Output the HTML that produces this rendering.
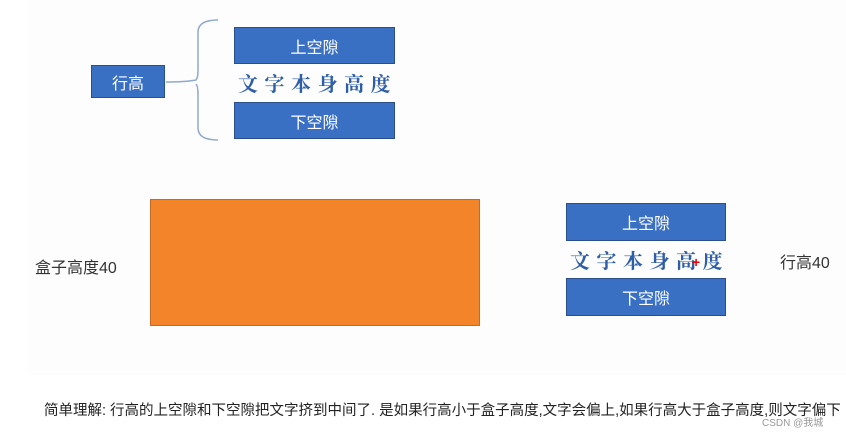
<!DOCTYPE html>
<html><head><meta charset="utf-8"><style>
body{margin:0;width:846px;height:433px;background:#fff;position:relative;overflow:hidden;font-family:"Liberation Sans","Noto Sans CJK SC",sans-serif}
.a{position:absolute}
.bb{position:absolute;background:#3a70c4;border:1px solid #2a4f8a;color:#fff;font-size:16px;display:flex;align-items:center;justify-content:center;box-sizing:border-box}
.bt{position:absolute;color:#2f5ea8;font-size:20px;font-weight:bold;letter-spacing:6.5px;font-family:"Noto Serif CJK SC",serif;white-space:nowrap}
</style></head><body>
<div class="a" style="left:27px;top:0;width:819px;height:375px;background:#fcfdfc"></div>
<div class="bb" style="left:91px;top:65px;width:74px;height:33px">行高</div>
<svg class="a" style="left:0;top:0" width="846" height="433">
<path d="M166 82 Q185 82 196 80 Q198 78 198 70 L198 32 Q198 20 218 20 M196 84 Q198 86 198 94 L198 128 Q198 140 218 140" fill="none" stroke="#8fa9cf" stroke-width="1.5"/>
</svg>
<div class="bb" style="left:234px;top:27px;width:161px;height:37px">上空隙</div>
<div class="bt" style="left:238px;top:68px">文字本身高度</div>
<div class="bb" style="left:234px;top:102px;width:161px;height:37px">下空隙</div>
<div class="a" style="left:150px;top:199px;width:330px;height:127px;background:#f4842a;border:1px solid #c86a25;box-sizing:border-box"></div>
<div class="a" style="left:35px;top:254px;font-size:16px;color:#333">盒子高度40</div>
<div class="bb" style="left:566px;top:203px;width:160px;height:38px">上空隙</div>
<div class="bt" style="left:570px;top:245px">文字本身高度</div>
<div class="a" style="left:692px;top:254px;color:#e00;font-size:14px;font-weight:bold">+</div>
<div class="bb" style="left:566px;top:278px;width:160px;height:38px">下空隙</div>
<div class="a" style="left:780px;top:249px;font-size:16px;color:#333">行高40</div>
<div class="a" style="left:44px;top:399px;font-size:14.5px;color:#222;white-space:nowrap">简单理解: 行高的上空隙和下空隙把文字挤到中间了. 是如果行高小于盒子高度,文字会偏上,如果行高大于盒子高度,则文字偏下</div>
<div class="a" style="left:762px;top:414px;font-size:10px;color:#999">CSDN @我城</div>
</body></html>
